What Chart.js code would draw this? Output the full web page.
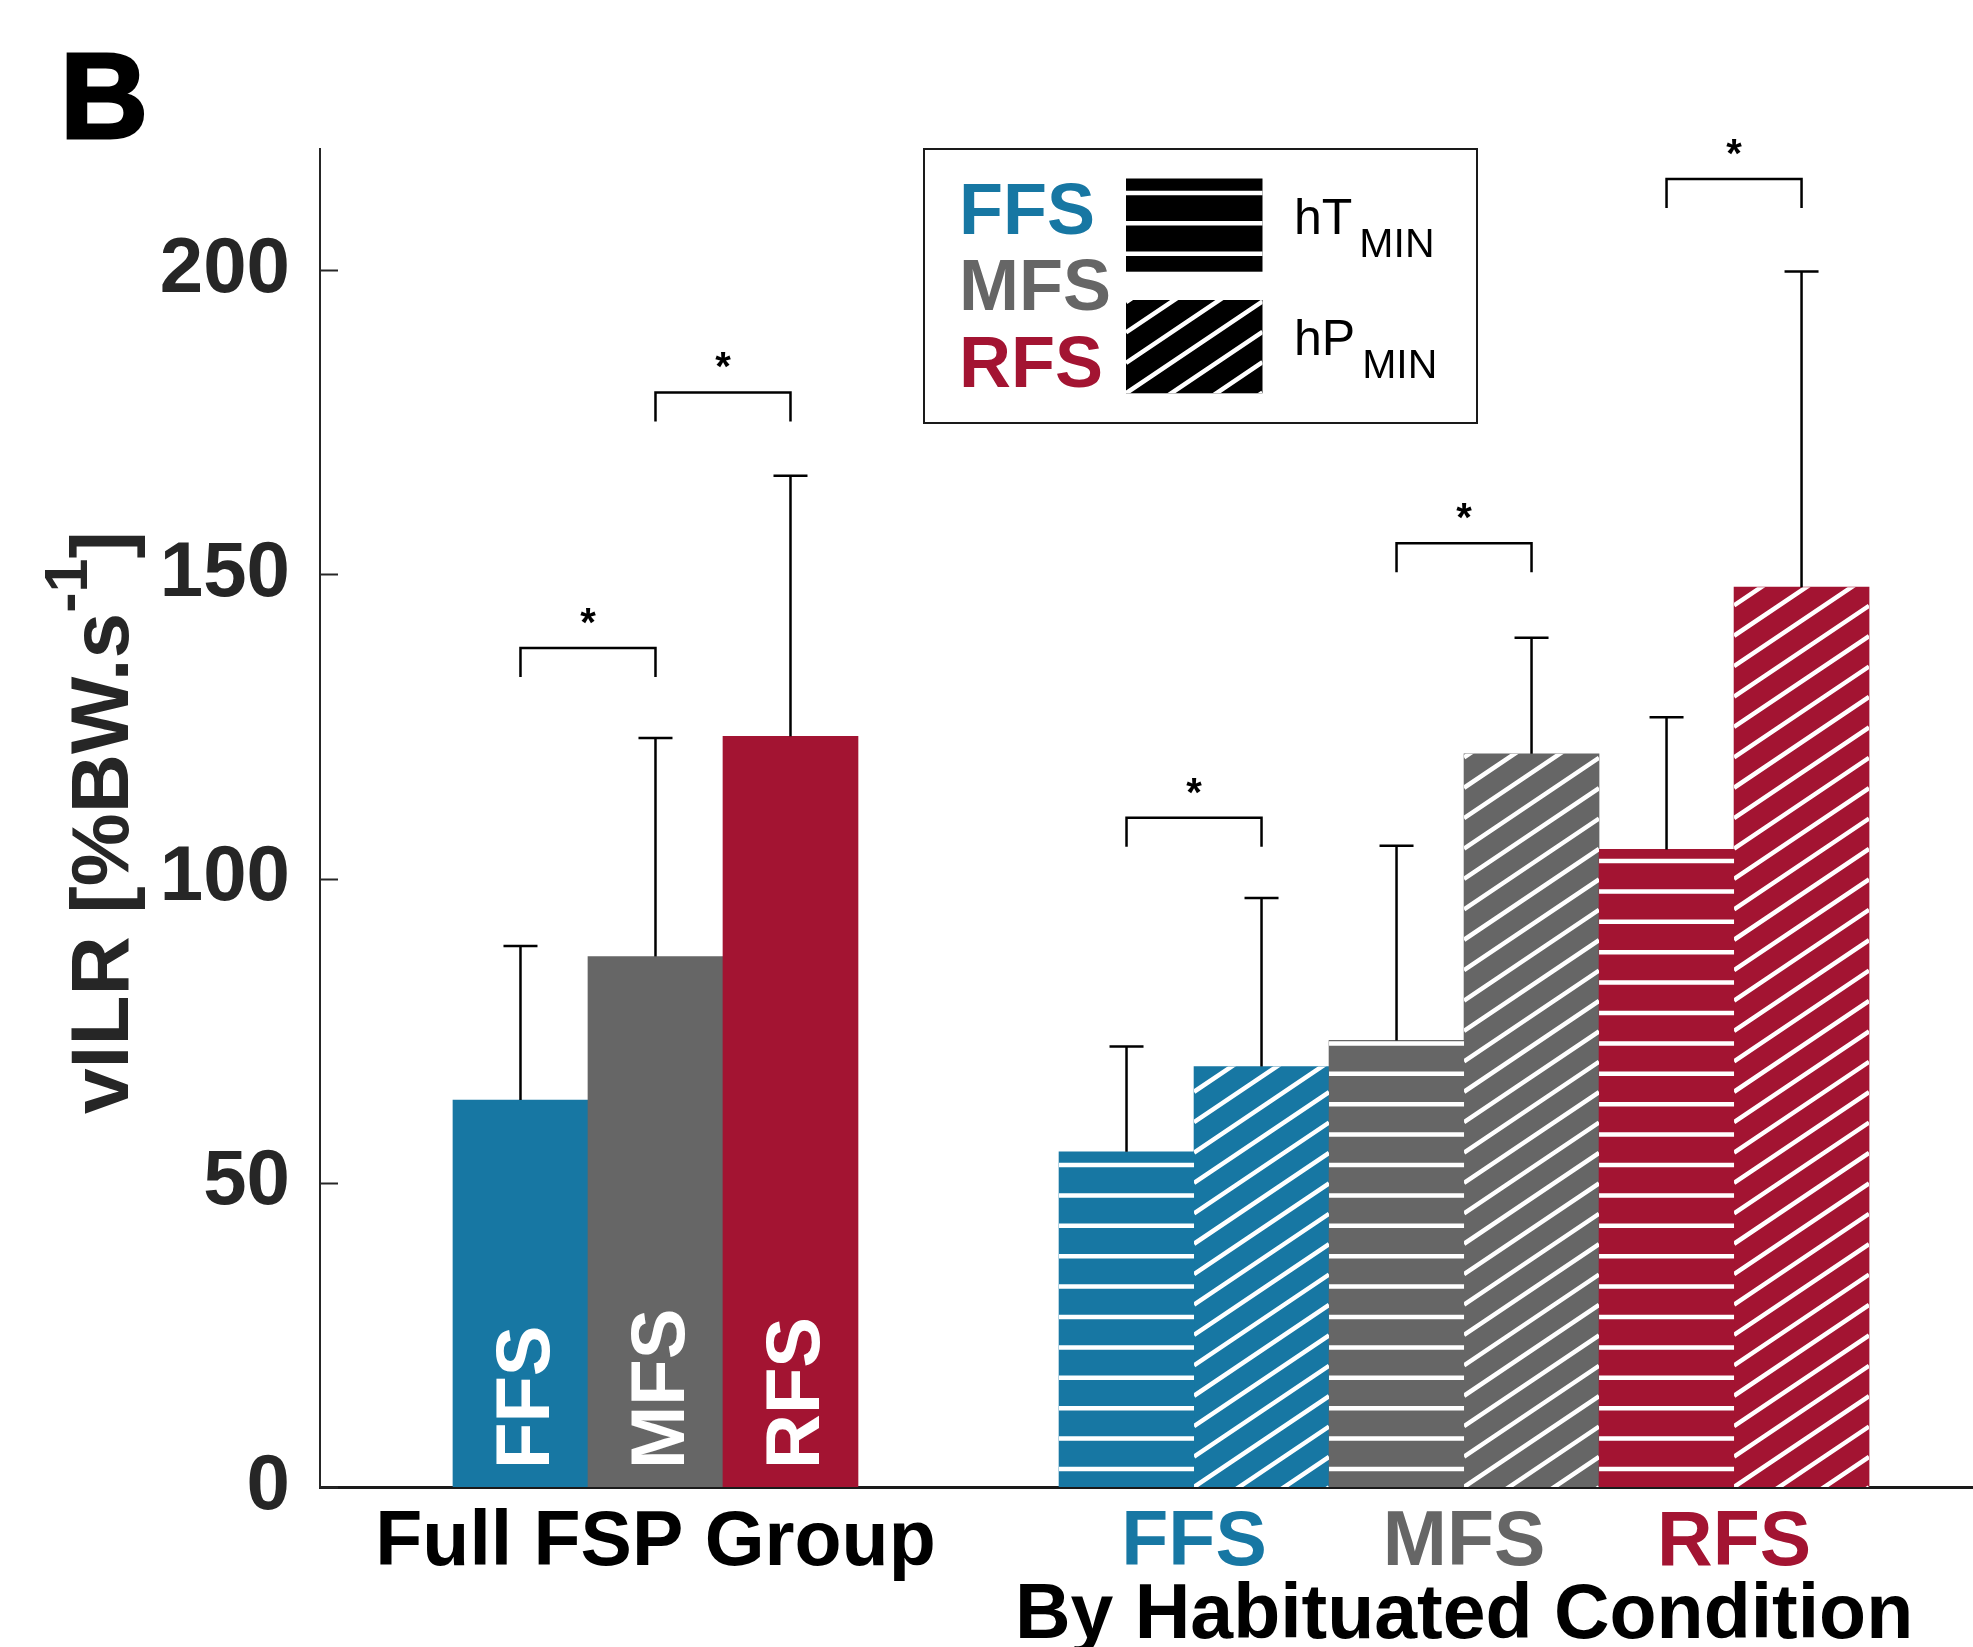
<!DOCTYPE html>
<html>
<head>
<meta charset="utf-8">
<script src="https://cdn.jsdelivr.net/npm/chart.js@4.4.0/dist/chart.umd.min.js"></script>
<style>
  html, body { margin: 0; padding: 0; background: #fff; overflow: hidden; }
  canvas { display: block; }
</style>
</head>
<body>
<canvas id="chart" width="1973" height="1647"></canvas>
<script>
// ---- data -------------------------------------------------------------
const strikeTypes = ['FFS', 'MFS', 'RFS'];
const fullMean = [63.6, 87.2, 123.4];   // full FSP group, vILR mean
const fullSD   = [25.3, 35.9, 42.8];
const hTMean   = [55.1, 73.4, 104.8];   // habituated, hT_MIN condition
const hTSD     = [17.3, 32.0, 21.7];
const hPMean   = [69.1, 120.5, 147.9];  // habituated, hP_MIN condition
const hPSD     = [27.7, 19.1, 51.9];
const groupTitles = ['Full FSP Group', 'By Habituated Condition'];
const yAxisText = ['vILR [%BW.s', '-1', ']'];
const legendLabels = ['hT', 'hP'];
const legendSub = 'MIN';
// significance brackets: [datasetIndex, barIndex] pairs and bracket height
const sigPairs  = [[[0, 0], [0, 1]], [[0, 1], [0, 2]], [[1, 0], [2, 0]], [[1, 1], [2, 1]], [[1, 2], [2, 2]]];
const sigLevels = [137.9, 179.9, 110.0, 155.1, 215.0];

// ---- styling / layout ---------------------------------------------------
const FONT = "'Liberation Sans', Arial, Helvetica, sans-serif";
const INK = '#262626';
const COLORS = ['#1777A3', '#666666', '#A31432'];
const HATCH = { gap: 30.4, width: 4.5, offset: 18, slope: 0.673 };
const GROUP_GAP = 1.489;          // empty slots between the two bar groups
const X_MIN = -0.485, X_SPAN = 12.244;

// bar slot positions on the linear x axis
const fullX = strikeTypes.map((_, i) => 1 + i);
const habStart = fullX[fullX.length - 1] + 1 + GROUP_GAP;
const hTX = strikeTypes.map((_, i) => habStart + 2 * i);
const hPX = strikeTypes.map((_, i) => habStart + 2 * i + 1);

const toPoints = (xs, ys) => xs.map((x, i) => ({ x, y: ys[i] }));

function hatchRect(ctx, left, top, right, bottom, kind) {
  ctx.save();
  ctx.beginPath();
  ctx.rect(left, top, right - left, bottom - top);
  ctx.clip();
  ctx.strokeStyle = '#ffffff';
  ctx.lineWidth = HATCH.width;
  ctx.beginPath();
  if (kind === 'horizontal') {
    for (let y = bottom - HATCH.offset; y > top - HATCH.width; y -= HATCH.gap) {
      ctx.moveTo(left - 2, y);
      ctx.lineTo(right + 2, y);
    }
  } else {
    const rise = (right - left) * HATCH.slope;
    for (let y0 = bottom + Math.ceil(rise / HATCH.gap + 1) * HATCH.gap; y0 > top - HATCH.gap; y0 -= HATCH.gap) {
      ctx.moveTo(left, y0);
      ctx.lineTo(right, y0 - rise);
    }
  }
  ctx.stroke();
  ctx.restore();
}

// hatching, white in-bar labels, error bars and significance brackets
const barDecor = {
  id: 'barDecor',
  afterDatasetsDraw(chart) {
    const ctx = chart.ctx;
    const yScale = chart.scales.y;

    chart.data.datasets.forEach((ds, di) => {
      const meta = chart.getDatasetMeta(di);
      meta.data.forEach((el, i) => {
        const p = el.getProps(['x', 'y', 'base', 'width'], true);
        if (ds.hatch) {
          hatchRect(ctx, p.x - p.width / 2, p.y, p.x + p.width / 2, p.base, ds.hatch);
        }
        if (ds.inBarLabels) {
          ctx.save();
          ctx.translate(p.x + 29, p.base - 18);
          ctx.rotate(-Math.PI / 2);
          ctx.fillStyle = '#ffffff';
          ctx.font = 'bold 76px ' + FONT;
          ctx.textAlign = 'left';
          ctx.textBaseline = 'alphabetic';
          ctx.fillText(ds.inBarLabels[i], 0, 0);
          ctx.restore();
        }
      });
    });

    // error bars (upper whisker only)
    ctx.save();
    ctx.strokeStyle = '#000';
    ctx.lineWidth = 2.5;
    chart.data.datasets.forEach((ds, di) => {
      const meta = chart.getDatasetMeta(di);
      meta.data.forEach((el, i) => {
        const top = yScale.getPixelForValue(ds.data[i].y + ds.sd[i]);
        ctx.beginPath();
        ctx.moveTo(el.x, el.y);
        ctx.lineTo(el.x, top);
        ctx.moveTo(el.x - 17, top);
        ctx.lineTo(el.x + 17, top);
        ctx.stroke();
      });
    });

    // significance brackets with asterisks
    ctx.fillStyle = '#000';
    ctx.font = 'bold 40px ' + FONT;
    ctx.textAlign = 'center';
    ctx.textBaseline = 'alphabetic';
    sigPairs.forEach((pair, k) => {
      const a = chart.getDatasetMeta(pair[0][0]).data[pair[0][1]];
      const b = chart.getDatasetMeta(pair[1][0]).data[pair[1][1]];
      const y = yScale.getPixelForValue(sigLevels[k]);
      ctx.beginPath();
      ctx.moveTo(a.x, y + 29);
      ctx.lineTo(a.x, y);
      ctx.lineTo(b.x, y);
      ctx.lineTo(b.x, y + 29);
      ctx.stroke();
      ctx.fillText('*', (a.x + b.x) / 2, y - 12);
    });
    ctx.restore();
  }
};

// inward tick marks, axis titles, panel letter and legend box
const annotations = {
  id: 'annotations',
  afterDraw(chart) {
    const ctx = chart.ctx;
    const y = chart.scales.y, x = chart.scales.x;
    const area = chart.chartArea;

    ctx.save();
    ctx.strokeStyle = INK;
    ctx.lineWidth = 2;
    y.ticks.forEach(t => {
      const py = Math.round(y.getPixelForValue(t.value)) + 0.5;
      ctx.beginPath();
      ctx.moveTo(area.left, py);
      ctx.lineTo(area.left + 18, py);
      ctx.stroke();
    });

    // y axis title with superscript
    ctx.translate(128, 1114);
    ctx.rotate(-Math.PI / 2);
    ctx.fillStyle = INK;
    ctx.textBaseline = 'alphabetic';
    ctx.textAlign = 'left';
    ctx.font = 'bold 82px ' + FONT;
    ctx.fillText(yAxisText[0], 0, 0);
    let w = ctx.measureText(yAxisText[0]).width;
    ctx.font = 'bold 61px ' + FONT;
    ctx.fillText(yAxisText[1], w, -41);
    w += ctx.measureText(yAxisText[1]).width;
    ctx.font = 'bold 82px ' + FONT;
    ctx.fillText(yAxisText[2], w, 0);
    ctx.restore();

    // group titles under the x axis
    ctx.save();
    ctx.textAlign = 'center';
    ctx.textBaseline = 'alphabetic';
    ctx.font = 'bold 77px ' + FONT;
    ctx.fillStyle = '#000';
    const fullCenter = x.getPixelForValue((fullX[0] + fullX[fullX.length - 1]) / 2);
    ctx.fillText(groupTitles[0], fullCenter, 1565);
    strikeTypes.forEach((s, i) => {
      ctx.fillStyle = COLORS[i];
      ctx.fillText(s, x.getPixelForValue((hTX[i] + hPX[i]) / 2), 1565);
    });
    ctx.fillStyle = '#000';
    const habCenter = x.getPixelForValue((hTX[0] + hPX[hPX.length - 1]) / 2);
    ctx.fillText(groupTitles[1], habCenter, 1638);

    // panel letter
    ctx.textAlign = 'left';
    ctx.font = 'bold 122px ' + FONT;
    ctx.fillStyle = '#000';
    ctx.strokeStyle = '#000';
    ctx.lineWidth = 3;
    ctx.fillText('B', 60, 138);
    ctx.strokeText('B', 60, 138);
    ctx.restore();

    // legend
    ctx.save();
    ctx.fillStyle = '#fff';
    ctx.fillRect(924, 149, 553, 274);
    ctx.strokeStyle = '#1a1a1a';
    ctx.lineWidth = 2;
    ctx.strokeRect(924, 149, 553, 274);
    ctx.font = 'bold 72px ' + FONT;
    ctx.textAlign = 'left';
    ctx.textBaseline = 'alphabetic';
    const legBase = [233.5, 310, 386.7];
    strikeTypes.forEach((s, i) => {
      ctx.fillStyle = COLORS[i];
      ctx.fillText(s, 959, legBase[i]);
    });
    const swatches = [[1126, 178.5, 1262.5, 271.7, 'horizontal'], [1126, 300, 1262.5, 393.3, 'diagonal']];
    swatches.forEach(r => {
      ctx.fillStyle = '#000';
      ctx.fillRect(r[0], r[1], r[2] - r[0], r[3] - r[1]);
      hatchRect(ctx, r[0], r[1], r[2], r[3], r[4]);
    });
    const labBase = [234, 355];
    ctx.fillStyle = '#000';
    legendLabels.forEach((lab, i) => {
      ctx.font = '50px ' + FONT;
      ctx.fillText(lab, 1294, labBase[i]);
      const lw = ctx.measureText(lab).width;
      ctx.font = '41px ' + FONT;
      ctx.fillText(legendSub, 1294 + lw + 7, labBase[i] + 23);
    });
    ctx.restore();
  }
};

new Chart(document.getElementById('chart'), {
  type: 'bar',
  data: {
    datasets: [
      { label: 'Full FSP Group', data: toPoints(fullX, fullMean), sd: fullSD,
        backgroundColor: COLORS, inBarLabels: strikeTypes },
      { label: 'hT MIN', data: toPoints(hTX, hTMean), sd: hTSD,
        backgroundColor: COLORS, hatch: 'horizontal' },
      { label: 'hP MIN', data: toPoints(hPX, hPMean), sd: hPSD,
        backgroundColor: COLORS, hatch: 'diagonal' }
    ]
  },
  options: {
    responsive: false,
    devicePixelRatio: 1,
    animation: false,
    layout: { padding: { left: 0, right: 0, top: 148.5, bottom: 160 } },
    datasets: {
      bar: { grouped: false, barPercentage: 1, categoryPercentage: 1, borderWidth: 0 }
    },
    plugins: { legend: { display: false }, tooltip: { enabled: false }, title: { display: false } },
    scales: {
      x: {
        type: 'linear',
        bounds: 'data',
        offset: false,
        min: X_MIN,
        max: X_MIN + X_SPAN,
        grid: { display: false, drawTicks: false, offset: false },
        border: { display: true, color: '#1a1a1a', width: 3 },
        ticks: { display: false },
        // the x axis carries no tick marks, only its two end points
        afterBuildTicks(scale) { scale.ticks = [{ value: X_MIN }, { value: X_MIN + X_SPAN }]; },
        afterFit(scale) { scale.height = 0; }
      },
      y: {
        min: 0,
        max: 220,
        grid: { display: false, drawTicks: false },
        border: { display: true, color: INK, width: 2 },
        ticks: {
          stepSize: 50,
          includeBounds: false,
          padding: 30,
          color: INK,
          font: { family: FONT, size: 78, weight: 'bold' }
        },
        afterFit(scale) { scale.width = 320; }
      }
    }
  },
  plugins: [barDecor, annotations]
});
</script>
</body>
</html>
